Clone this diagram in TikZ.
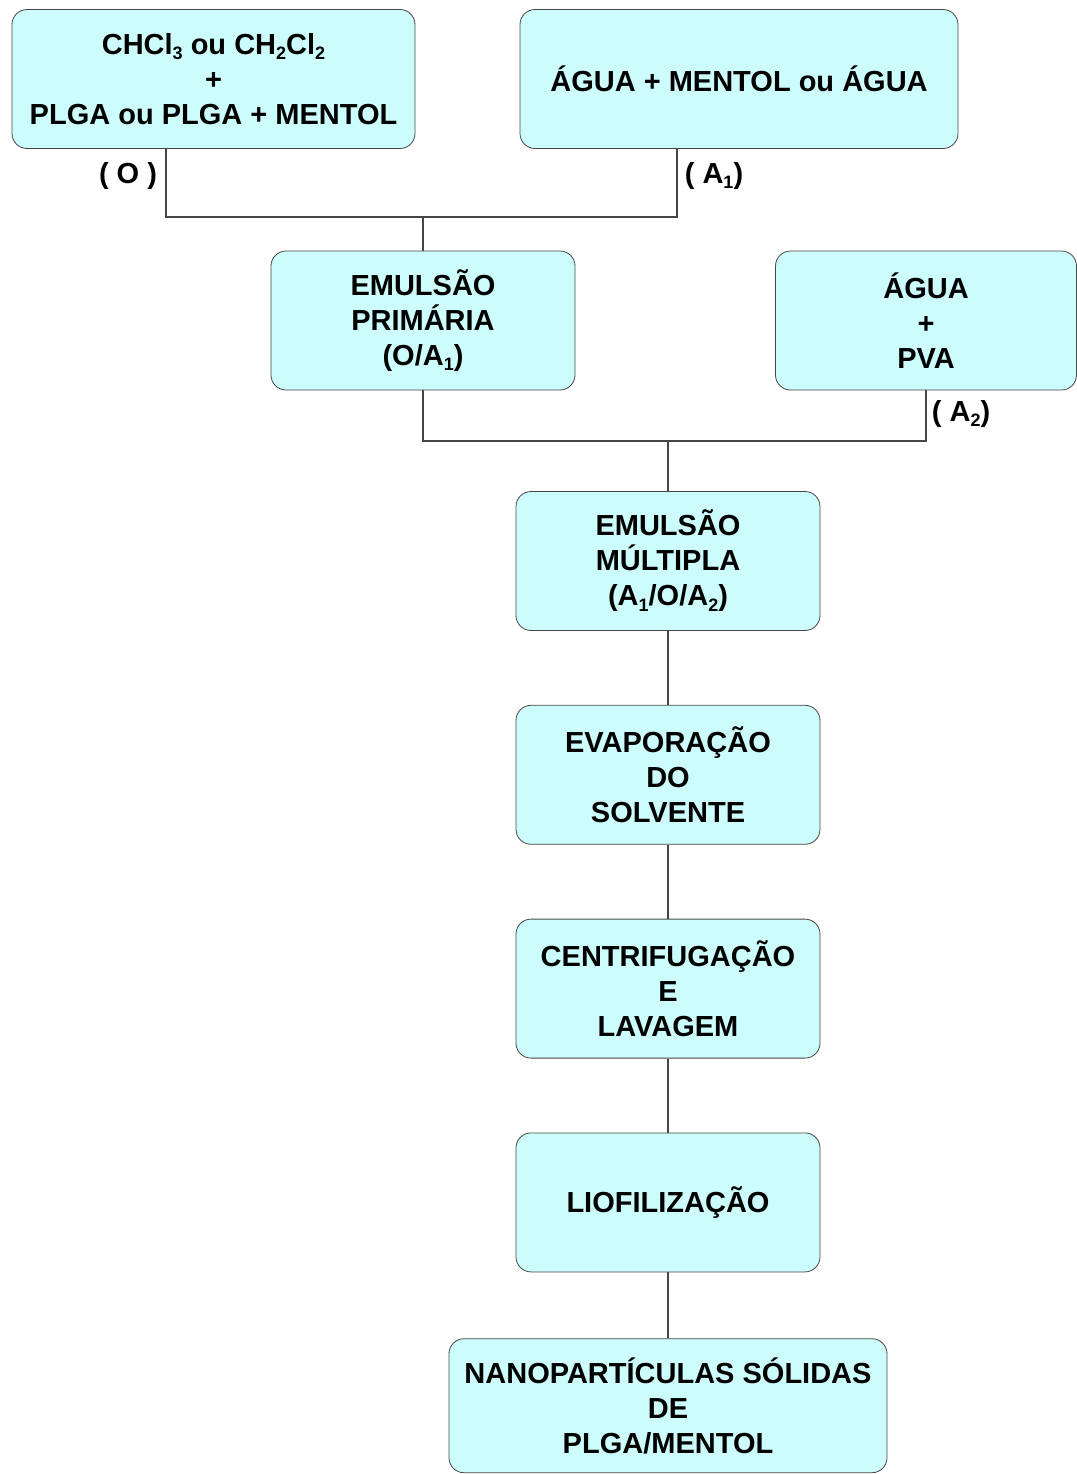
\documentclass[tikz,border=0pt]{standalone}
\usepackage{fontspec}
\setmainfont{Liberation Sans}
\usetikzlibrary{positioning}

\definecolor{boxfill}{RGB}{204,252,252}
\definecolor{boxline}{RGB}{70,70,70}
\newcommand{\lowr}[1]{\raisebox{-0.35ex}{\fontsize{9}{9}\selectfont #1}}

\begin{document}
\begin{tikzpicture}[
x=0.5pt, y=-0.5pt,
stagebox/.style={rectangle, rounded corners=7.5pt, draw=boxline, fill=boxfill, thin, align=center,
  font=\fontsize{14.5}{17.5}\selectfont\bfseries, minimum height=69.5pt, inner sep=2pt},
phaselabel/.style={font=\fontsize{14.5}{17.5}\selectfont\bfseries, inner sep=0pt},
link/.style={draw=boxline, line width=1pt},
node distance=37pt,
]
\useasboundingbox (0,0) rectangle (1077,1474);

% Starting phases
\node[stagebox, minimum width=201.5pt] (organic) at (213.5,79)
  {CHCl\lowr{3} ou CH\lowr{2}Cl\lowr{2}\\+\\PLGA ou PLGA + MENTOL};
\node[stagebox, minimum width=219pt]   (aqueous1) at (739,79) {ÁGUA + MENTOL ou ÁGUA};

% Emulsion nodes
\node[stagebox, minimum width=152pt]   (primary) at (423,320.5) {EMULSÃO\\PRIMÁRIA\\(O/A\lowr{1})};
\node[stagebox, minimum width=150.5pt] (aqueous2) at (926,320.5) {ÁGUA\\+\\PVA};
\node[stagebox, minimum width=152pt]   (multiple) at (668,561) {EMULSÃO\\MÚLTIPLA\\(A\lowr{1}/O/A\lowr{2})};

% Processing nodes
\node[stagebox, minimum width=152pt]   (evaporation)    [below=of multiple]      {EVAPORAÇÃO\\DO\\SOLVENTE};
\node[stagebox, minimum width=152pt]   (centrifugation) [below=of evaporation]   {CENTRIFUGAÇÃO\\E\\LAVAGEM};
\node[stagebox, minimum width=152pt]   (lyophilization) [below=of centrifugation] {LIOFILIZAÇÃO};
\node[stagebox, minimum width=219pt, minimum height=67pt] (product) [below=33pt of lyophilization]
  {NANOPARTÍCULAS SÓLIDAS\\DE\\PLGA/MENTOL};

% Phase labels
\node[phaselabel] (olabel)  at (128,176) {( O )};
\node[phaselabel] (a1label) at (714,176) {( A\lowr{1})};
\node[phaselabel] (a2label) at (961,414) {( A\lowr{2})};

% Junction points
\coordinate (oleg)  at (166,217);
\coordinate (aleg)  at (677,217);
\coordinate (mixup) at (423,217);
\coordinate (mixdown) at (668,441);

\draw[link] (organic.south -| oleg) -- (oleg) -- (aleg) -- (aqueous1.south -| aleg);
\draw[link] (mixup) -- (primary.north);
\draw[link] (primary.south) |- (mixdown) -| (aqueous2.south);
\draw[link] (mixdown) -- (multiple.north);
\draw[link] (multiple) -- (evaporation);
\draw[link] (evaporation) -- (centrifugation);
\draw[link] (centrifugation) -- (lyophilization);
\draw[link] (lyophilization) -- (product);
\end{tikzpicture}
\end{document}
